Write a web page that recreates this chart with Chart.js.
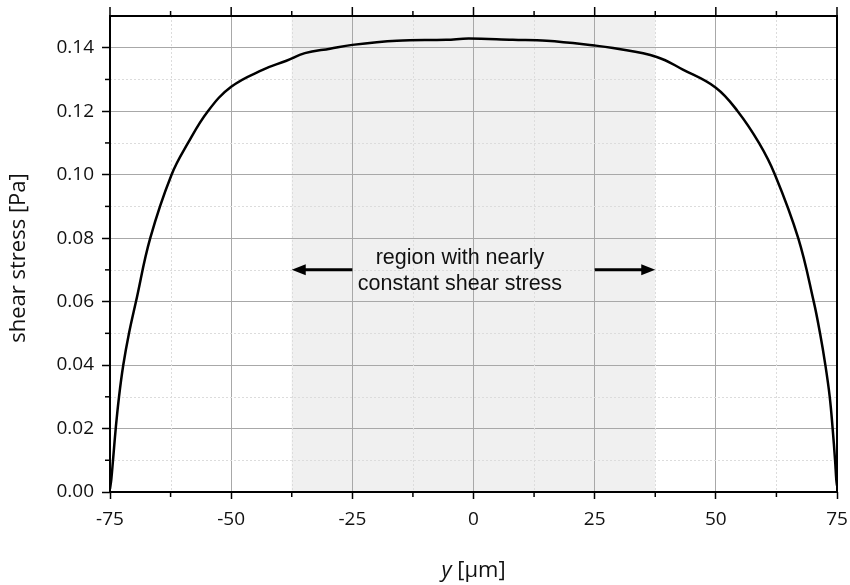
<!DOCTYPE html>
<html>
<head>
<meta charset="utf-8">
<script src="https://cdn.jsdelivr.net/npm/chart.js@4.4.1/dist/chart.umd.min.js"></script>
<style>
html,body{margin:0;padding:0;background:#fff;}
#caja{width:850px;height:585px;}
</style>
</head>
<body>
<div id="caja"><canvas id="miGrafica" width="850" height="585"></canvas></div>
<script>
// posicion lateral y [um] y esfuerzo cortante [Pa]
var posicion = [-75, -74.73, -74.38, -73.82, -73.14, -72.26, -71.08, -69.64, -66.7, -62.3, -58.9, -54.8, -50, -43.4, -38.6, -34.8, -29.6, -25, -15.8, -5.6, -1, 8.1, 15.1, 25, 28.8, 37.8, 43.2, 50, 54.5, 58.9, 62.2, 67.0, 70.2, 71.5, 72.6, 73.5, 74.1, 74.6, 74.85, 75];
var esfuerzo = [0.001, 0.004, 0.010, 0.020, 0.030, 0.040, 0.050, 0.060, 0.080, 0.100, 0.110, 0.120, 0.1277, 0.1331, 0.1359, 0.1383, 0.1397, 0.1409, 0.1422, 0.1425, 0.1429, 0.1425, 0.1422, 0.1407, 0.1399, 0.1371, 0.1331, 0.1274, 0.1200, 0.110, 0.100, 0.080, 0.060, 0.050, 0.040, 0.030, 0.020, 0.010, 0.004, 0.002];

var xMayores = [-75, -50, -25, 0, 25, 50, 75];
var xMenores = [-62.5, -37.5, -12.5, 12.5, 37.5, 62.5];
var yMayores = [0, 0.02, 0.04, 0.06, 0.08, 0.10, 0.12, 0.14];
var yMenores = [0.01, 0.03, 0.05, 0.07, 0.09, 0.11, 0.13];

var zona = [-37.5, 37.5];
var flechaY = 0.07;
var flechaDesde = [-25, 25];
var notaX = -2.8;
var nota = ["region with nearly", "constant shear stress"];

var tituloY = "shear stress [Pa]";

document.addEventListener("DOMContentLoaded", function(){
    grafica();
});

function flecha(ctx, x1, x2, y){
    var dir = x2 > x1 ? 1 : -1;
    ctx.beginPath();
    ctx.moveTo(x1, y);
    ctx.lineTo(x2 - dir*10, y);
    ctx.stroke();
    ctx.beginPath();
    ctx.moveTo(x2, y);
    ctx.lineTo(x2 - dir*14, y - 5.5);
    ctx.lineTo(x2 - dir*14, y + 5.5);
    ctx.closePath();
    ctx.fill();
}

var extras = {
    id: "extras",
    beforeDraw: function(chart){
        var ctx = chart.ctx, a = chart.chartArea, sx = chart.scales.x;
        ctx.save();
        ctx.fillStyle = "#f0f0f0";
        var x1 = sx.getPixelForValue(zona[0]), x2 = sx.getPixelForValue(zona[1]);
        ctx.fillRect(x1, a.top, x2 - x1, a.bottom - a.top);
        ctx.restore();
    },
    beforeDatasetsDraw: function(chart){
        var ctx = chart.ctx, a = chart.chartArea, sx = chart.scales.x, sy = chart.scales.y;
        ctx.save();
        ctx.strokeStyle = "#dcdcdc";
        ctx.lineWidth = 1;
        ctx.setLineDash([2, 2]);
        xMenores.forEach(function(v){
            var p = Math.round(sx.getPixelForValue(v)) + 0.5;
            ctx.beginPath(); ctx.moveTo(p, a.top); ctx.lineTo(p, a.bottom); ctx.stroke();
        });
        yMenores.forEach(function(v){
            var p = Math.round(sy.getPixelForValue(v)) + 0.5;
            ctx.beginPath(); ctx.moveTo(a.left, p); ctx.lineTo(a.right, p); ctx.stroke();
        });
        ctx.restore();

        // flechas y texto
        ctx.save();
        ctx.strokeStyle = "#000";
        ctx.fillStyle = "#000";
        ctx.lineWidth = 3;
        var yy = sy.getPixelForValue(flechaY);
        flecha(ctx, sx.getPixelForValue(flechaDesde[0]), sx.getPixelForValue(zona[0]), yy);
        flecha(ctx, sx.getPixelForValue(flechaDesde[1]), sx.getPixelForValue(zona[1]), yy);
        ctx.font = '21.5px "Liberation Sans", Arial, sans-serif';
        ctx.textAlign = "center";
        ctx.textBaseline = "middle";
        ctx.fillStyle = "#111";
        var tx = sx.getPixelForValue(notaX);
        ctx.fillText(nota[0], tx, yy - 12);
        ctx.fillText(nota[1], tx, yy + 14);
        ctx.restore();
    },
    afterDatasetsDraw: function(chart){
        var ctx = chart.ctx, a = chart.chartArea, sx = chart.scales.x, sy = chart.scales.y;
        ctx.save();
        ctx.strokeStyle = "#000";
        ctx.lineWidth = 2;
        ctx.strokeRect(a.left, a.top, a.right - a.left, a.bottom - a.top);
        ctx.lineWidth = 1.5;
        // marcas menores abajo y arriba
        xMenores.forEach(function(v){
            var p = sx.getPixelForValue(v);
            ctx.beginPath(); ctx.moveTo(p, a.bottom); ctx.lineTo(p, a.bottom + 5); ctx.stroke();
            ctx.beginPath(); ctx.moveTo(p, a.top); ctx.lineTo(p, a.top - 5); ctx.stroke();
        });
        xMayores.forEach(function(v){
            var p = sx.getPixelForValue(v);
            ctx.beginPath(); ctx.moveTo(p, a.top); ctx.lineTo(p, a.top - 9); ctx.stroke();
        });
        yMenores.forEach(function(v){
            var p = sy.getPixelForValue(v);
            ctx.beginPath(); ctx.moveTo(a.left, p); ctx.lineTo(a.left - 5, p); ctx.stroke();
        });
        // titulos
        ctx.fillStyle = "#111";
        ctx.font = '22px "Open Sans", sans-serif';
        ctx.textBaseline = "middle";
        ctx.save();
        ctx.translate(19, (a.top + a.bottom) / 2 + 4);
        ctx.rotate(-Math.PI / 2);
        ctx.textAlign = "center";
        ctx.fillText(tituloY, 0, 0);
        ctx.restore();

        var cx = (a.left + a.right) / 2, cy = 571;
        ctx.font = 'italic 22px "Open Sans", sans-serif';
        var w1 = ctx.measureText("y").width;
        ctx.font = '22px "Open Sans", sans-serif';
        var w2 = ctx.measureText(" [\u03bcm]").width;
        var x0 = cx - (w1 + w2) / 2;
        ctx.textAlign = "left";
        ctx.font = 'italic 22px "Open Sans", sans-serif';
        ctx.fillText("y", x0, cy);
        ctx.font = '22px "Open Sans", sans-serif';
        ctx.fillText(" [\u03bcm]", x0 + w1, cy);
        ctx.restore();
    }
};

function grafica(){
    var miCanvas = document.getElementById("miGrafica").getContext("2d");
    var puntos = posicion.map(function(x, i){ return {x: x, y: esfuerzo[i]}; });

    var chart = new Chart(miCanvas, {
        type: "line",
        data: {
            datasets: [{
                data: puntos,
                borderColor: "#000",
                borderWidth: 2.5,
                pointRadius: 0,
                fill: false,
                tension: 0.4
            }]
        },
        options: {
            responsive: false,
            animation: false,
            events: [],
            layout: { padding: { top: 16, right: 13, left: 0, bottom: 0 } },
            plugins: { legend: { display: false }, tooltip: { enabled: false } },
            scales: {
                x: {
                    type: "linear",
                    min: -75, max: 75,
                    afterFit: function(s){ s.height = 93; s.paddingLeft = 0; s.paddingRight = 0; },
                    afterBuildTicks: function(s){ s.ticks = xMayores.map(function(v){ return {value: v}; }); },
                    grid: { color: "#a8a8a8", lineWidth: 1, tickColor: "#000", tickLength: 7, tickWidth: 1.5 },
                    border: { display: false },
                    ticks: {
                        color: "#111",
                        padding: 9,
                        maxRotation: 0,
                        font: { family: "Open Sans", size: 19 },
                        callback: function(v){ return String(v); }
                    }
                },
                y: {
                    min: 0, max: 0.15,
                    afterFit: function(s){ s.width = 110; s.paddingTop = 0; s.paddingBottom = 0; },
                    afterBuildTicks: function(s){ s.ticks = yMayores.map(function(v){ return {value: v}; }); },
                    grid: { color: "#a8a8a8", lineWidth: 1, tickColor: "#000", tickLength: 8, tickWidth: 1.5 },
                    border: { display: false },
                    ticks: {
                        color: "#111",
                        padding: 8,
                        font: { family: "Open Sans", size: 19 },
                        callback: function(v){ return Number(v).toFixed(2); }
                    }
                }
            }
        },
        plugins: [extras]
    });
}
</script>
</body>
</html>
